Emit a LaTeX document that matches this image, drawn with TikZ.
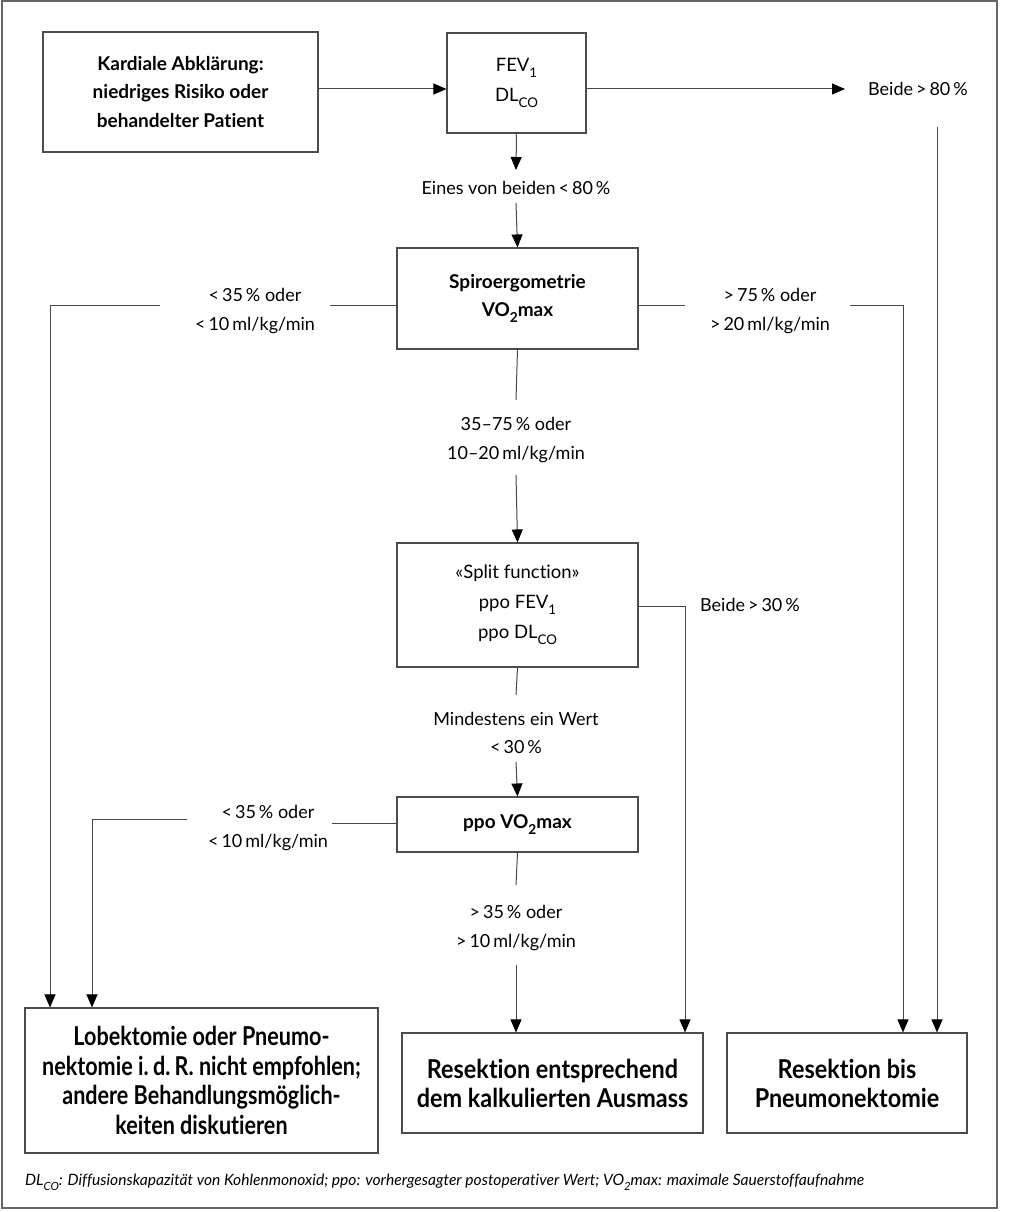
\documentclass[tikz,border=0pt]{standalone}
\usepackage{fontspec}
\setmainfont{Lato}[Ligatures={NoCommon,NoRare}]
\newfontfamily\condfont{Lato}[FakeStretch=0.9,Ligatures={NoCommon,NoRare}]
\newfontfamily\condLfont{Lato}[FakeStretch=0.83,Ligatures={NoCommon,NoRare}]
\newcommand{\lsub}[1]{\raisebox{-0.3em}{\scalebox{0.72}{#1}}}
\usetikzlibrary{arrows.meta}
\tikzset{
  box/.style={draw=black!70, line width=1.1pt, align=center, inner sep=0pt, text=black},
  boldtxt/.style={font=\bfseries\fontsize{19}{28.5}\selectfont},
  regtxt/.style={font=\fontsize{18.5}{30}\selectfont},
  condtxt/.style={font=\condfont\bfseries\fontsize{26}{29}\selectfont},
  condLtxt/.style={font=\condLfont\bfseries\fontsize{26}{29.5}\selectfont},
  lbl/.style={align=center, inner sep=0pt, font=\fontsize{18}{28.5}\selectfont},
  ln/.style={line width=1pt, draw=black!72},
  arr/.style={ln, -{Triangle[length=13pt,width=11pt,color=black]}}
}
\begin{document}
\begin{tikzpicture}[x=1pt,y=-1pt]
\useasboundingbox (0,0) rectangle (1024,1212);
\draw[draw=black!60, line width=1.3pt] (2,1) rectangle (997,1208);

% boxes
\node[box, boldtxt, minimum width=275pt, minimum height=120pt] (k) at (180.5,92) {Kardiale Abklärung:\\niedriges Risiko oder\\behandelter Patient};
\node[box, regtxt, minimum width=139pt, minimum height=100pt] (f) at (516.5,83) {FEV\lsub{1}\\DL\lsub{CO}};
\node[box, boldtxt, minimum width=241pt, minimum height=101pt] (s) at (517.5,298.5) {Spiroergometrie\\VO\lsub{2}max};
\node[box, regtxt, minimum width=241pt, minimum height=124pt] (sp) at (517.5,605) {«Split function»\\ppo FEV\lsub{1}\\ppo DL\lsub{CO}};
\node[box, boldtxt, minimum width=241pt, minimum height=55pt] (p) at (517.5,824.5) {ppo VO\lsub{2}max};
\node[box, condLtxt, minimum width=353pt, minimum height=145pt] (L) at (201.5,1080.5) {Lobektomie oder Pneumo-\\nektomie i.\,d.\,R. nicht empfohlen;\\andere Behandlungsmöglich-\\keiten diskutieren};
\node[box, condtxt, minimum width=301pt, minimum height=100pt] (R1) at (552.5,1083) {Resektion entsprechend\\dem kalkulierten Ausmass};
\node[box, condtxt, minimum width=240pt, minimum height=100pt] (R2) at (847,1083) {Resektion bis\\Pneumonektomie};

% labels
\node[lbl, anchor=west] (b80) at (868,89) {Beide\,>\,80\,\%};
\node[lbl] (e) at (516,188) {Eines von beiden\,<\,80\,\%};
\node[lbl] (sl) at (255,311) {<\,35\,\% oder\\<\,10\,ml/kg/min};
\node[lbl] (sr) at (770,311) {>\,75\,\% oder\\>\,20\,ml/kg/min};
\node[lbl] (m) at (516,440) {35–75\,\% oder\\10–20\,ml/kg/min};
\node[lbl, anchor=west] (b30) at (700,605) {Beide\,>\,30\,\%};
\node[lbl] (mi) at (516,733) {Mindestens ein Wert\\<\,30\,\%};
\node[lbl] (pl) at (268,828) {<\,35\,\% oder\\<\,10\,ml/kg/min};
\node[lbl] (pb) at (516,928) {>\,35\,\% oder\\>\,10\,ml/kg/min};
\node[anchor=west, inner sep=0pt, font=\itshape\fontsize{15.6}{17}\selectfont] (fn) at (25,1182) {DL\lsub{CO}: Diffusionskapazität von Kohlenmonoxid; ppo: vorhergesagter postoperativer Wert; VO\lsub{2}max: maximale Sauerstoffaufnahme};

% free-end coordinates
\coordinate (a80) at (845,89);
\coordinate (v80) at (937,127);
\coordinate (e1) at (516,170);
\coordinate (e2) at (516,203);
\coordinate (sl1) at (330,305);
\coordinate (sl2) at (160,305);
\coordinate (sr1) at (685,305);
\coordinate (sr2) at (850,305);
\coordinate (m1) at (516,400);
\coordinate (m2) at (516,475);
\coordinate (n1) at (516,695);
\coordinate (n2) at (516,762);
\coordinate (pl1) at (332,823);
\coordinate (pl2) at (187,819);
\coordinate (q1) at (516,885);
\coordinate (q2) at (516,965);

% connectors
\draw[arr] (k.east |- a80) -- (f.west |- a80);
\draw[arr] (f.east |- a80) -- (a80);
\draw[arr] (v80) -- (R2.north -| v80);
\draw[arr] (f.south) -- (e1);
\draw[arr] (e2) -- (s.north);
\draw[ln] (s.west |- sl1) -- (sl1);
\draw[arr] (sl2) -- (50,305) -- (L.north -| 50,0);
\draw[ln] (s.east |- sr1) -- (sr1);
\draw[arr] (sr2) -- (903,305) -- (R2.north -| 903,0);
\draw[ln] (s.south) -- (m1);
\draw[arr] (m2) -- (sp.north);
\draw[arr] (sp.east |- 0,606) -- (685,606) -- (R1.north -| 685,0);
\draw[ln] (sp.south) -- (n1);
\draw[arr] (n2) -- (p.north);
\draw[ln] (p.west |- pl1) -- (pl1);
\draw[arr] (pl2) -- (92,819) -- (L.north -| 92,0);
\draw[ln] (p.south) -- (q1);
\draw[arr] (q2) -- (R1.north -| q2);
\end{tikzpicture}
\end{document}
